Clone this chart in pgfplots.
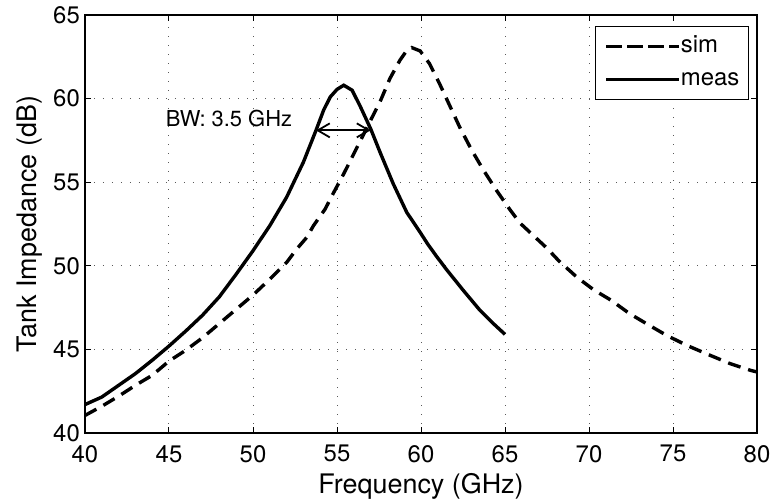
\documentclass[border=0pt]{standalone}
\usepackage{fontspec}
\setmainfont{TeX Gyre Heros}
\usepackage{pgfplots}
\pgfplotsset{compat=1.18}
\usetikzlibrary{arrows.meta}
\begin{document}
\begin{tikzpicture}
\begin{axis}[
  scale only axis,
  width=672bp, height=418bp,
  xmin=40, xmax=80, ymin=40, ymax=65,
  xtick={40,45,...,80}, ytick={40,45,...,65},
  /pgf/number format/assume math mode=true,
  tick label style={font=\fontsize{24}{28}\selectfont, inner sep=0pt},
  xticklabel style={yshift=-12bp},
  yticklabel style={xshift=-5bp},
  tick align=inside,
  major tick length=6bp,
  axis line style={line width=1.1bp},
  every tick/.style={line width=1bp, black},
  grid=major,
  major grid style={line width=1bp, black!65, dash pattern=on 1.2bp off 7.8bp},
  xlabel={Frequency (GHz)},
  ylabel={Tank Impedance (dB)},
  label style={font=\fontsize{27}{32}\selectfont},
  xlabel style={at={(axis description cs:0.5,0)}, anchor=base, yshift=-60bp},
  ylabel style={at={(axis description cs:-0.0729,0.5)}, anchor=base},
  legend style={at={(axis description cs:0.988,0.9737)}, anchor=north east,
    font=\fontsize{24}{28}\selectfont, draw=black, line width=1bp,
    inner xsep=9bp, inner ysep=9bp, row sep=11bp, column sep=0bp,
    /tikz/every even column/.style={column sep=0bp},
    /tikz/every odd column/.style={column sep=0bp},
    nodes={inner sep=0pt, text height=17bp, text depth=5bp}},
  legend cell align=left,
  legend image code/.code={\path (-3bp,0bp) -- (70bp,0bp);\draw[#1] (0bp,0bp) -- (61bp,0bp);},
]
\addplot[black, line width=3.4bp, dash pattern=on 13bp off 8bp] coordinates {
(40.0,41.05) (41.0,41.6) (42.0,42.2) (43.0,42.85) (44.0,43.45) (45.0,44.3)
(46.0,44.95) (47.0,45.7) (48.0,46.55) (49.0,47.4) (50.0,48.25) (51.0,49.2)
(52.0,50.2) (52.6,51.0) (53.2,51.7) (53.6,52.4) (54.3,53.4) (54.6,54.0)
(55.4,55.5) (56.2,57.1) (57.0,58.7) (57.6,59.9) (58.15,61.2) (58.75,62.3)
(59.1,62.8) (59.45,63.05) (59.95,62.85) (60.5,62.1) (61.1,60.9) (61.7,59.6)
(62.3,58.3) (63.0,56.95) (63.7,55.75) (64.5,54.5) (65.3,53.35) (65.9,52.55)
(66.7,51.8) (67.5,51.05) (68.2,50.3) (69.3,49.3) (70.3,48.55) (71.3,47.95)
(72.4,47.15) (73.4,46.55) (74.6,45.85) (75.8,45.25) (77.2,44.65) (78.4,44.15)
(79.6,43.75) (80.0,43.65)
};
\addlegendentry{sim}
\addplot[black, line width=3.4bp] coordinates {
(40.0,41.7) (41.0,42.15) (42.0,42.85) (43.0,43.55) (44.0,44.35) (45.0,45.2)
(46.0,46.1) (47.0,47.05) (48.0,48.15) (49.0,49.5) (50.0,50.9) (51.0,52.4)
(52.0,54.1) (53.0,56.2) (53.75,58.1) (54.2,59.3) (54.6,60.1) (55.0,60.55)
(55.4,60.8) (55.9,60.5) (56.4,59.5) (57.0,58.2) (57.6,56.7) (58.35,54.9)
(59.15,53.2) (59.55,52.6) (59.95,52.0) (60.4,51.3) (60.9,50.6) (61.5,49.8)
(62.5,48.55) (63.5,47.35) (64.3,46.55) (65.0,45.9)
};
\addlegendentry{meas}
\draw[line width=1.8bp, {Straight Barb[length=12bp,width=14bp]}-{Straight Barb[length=12bp,width=14bp]}]
  (axis cs:53.75,58.1) -- (axis cs:57.0,58.1);
\node[anchor=base west, inner sep=0pt, font=\fontsize{22}{26}\selectfont]
  at (axis cs:44.8,58.32) {BW: 3.5 GHz};
\end{axis}
\pgfresetboundingbox
\path[use as bounding box] (-85bp,-68bp) rectangle (689bp,433bp);
\end{tikzpicture}
\end{document}
